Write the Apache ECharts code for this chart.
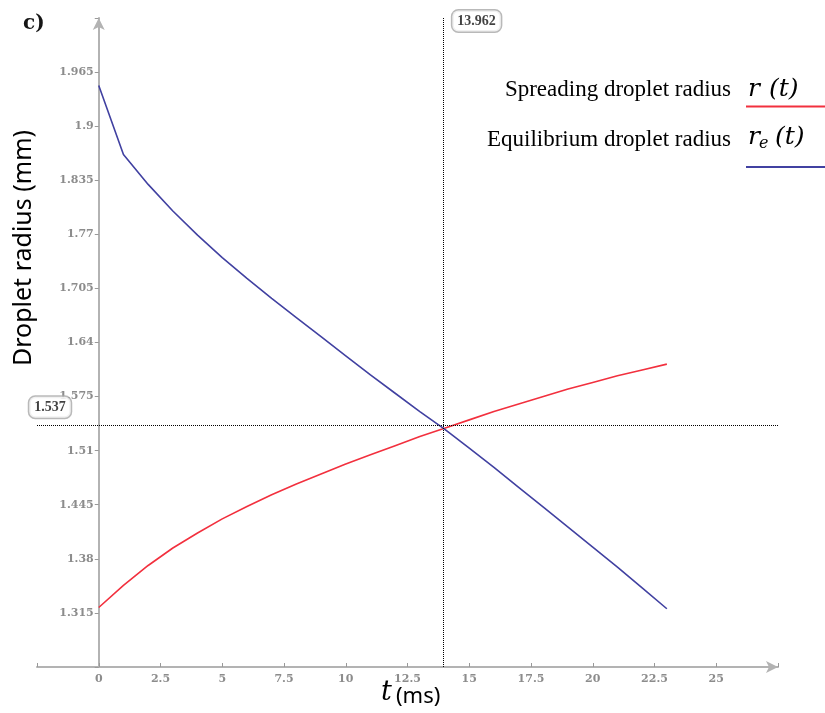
<!DOCTYPE html>
<html>
<head>
<meta charset="utf-8">
<script src="https://cdn.jsdelivr.net/npm/echarts@6/dist/echarts.min.js"></script>
<style>
  html, body { margin: 0; padding: 0; background: #fff; }
  #chart { width: 825px; height: 713px; }
</style>
</head>
<body>
<div id="chart"></div>
<script>
// ---- data ----
const timeMs = [0, 1, 2, 3, 4, 5, 6, 7, 8, 9, 10, 11, 12, 13, 14, 15, 16, 17, 18, 19, 20, 21, 22, 23];
const spreadingRadius = [1.3215, 1.348, 1.372, 1.393, 1.411, 1.428, 1.443, 1.457, 1.470, 1.482, 1.494, 1.505, 1.516, 1.527, 1.537, 1.547, 1.557, 1.566, 1.575, 1.584, 1.592, 1.600, 1.607, 1.614];
const equilibriumRadius = [1.949, 1.866, 1.830, 1.798, 1.769, 1.742, 1.717, 1.693, 1.670, 1.647, 1.624, 1.601, 1.579, 1.557, 1.536, 1.513, 1.490, 1.466, 1.442, 1.418, 1.394, 1.370, 1.345, 1.320];
const crossing = [13.962, 1.537];
const xTickLabels = ['0', '2.5', '5', '7.5', '10', '12.5', '15', '17.5', '20', '22.5', '25'];
const yTickLabels = ['1.315', '1.38', '1.445', '1.51', '1.575', '1.64', '1.705', '1.77', '1.835', '1.9', '1.965'];
const xRange = [-2.5, 27.5, 2.5];
const yRange = [1.25, 2.03, 0.065];

const RED = '#f2303e';
const BLUE = '#4141a1';

const GRID_LEFT = 37, GRID_RIGHT = 47;
const chart = echarts.init(document.getElementById('chart'), null, { renderer: 'canvas' });
const plotWidth = 825 - GRID_LEFT - GRID_RIGHT;
// place the y axis at t = 0 (axis offset derived from the x scale)
const yAxisOffset = -plotWidth * (0 - xRange[0]) / (xRange[1] - xRange[0]);

const axisLabelStyle = { fontFamily: 'DejaVu Serif', fontSize: 11, fontWeight: 'bold', color: '#8c8c8c' };
const labelBox = {
  fontFamily: 'Liberation Serif', fontWeight: 'bold', fontSize: 14, color: '#111',
  backgroundColor: '#fff', borderColor: '#a8a8a8', borderWidth: 1.5, borderRadius: 6,
  padding: [4, 5, 3, 5]
};

const option = {
  animation: false,
  backgroundColor: '#fff',
  grid: { left: GRID_LEFT, right: GRID_RIGHT, top: 18, bottom: 46, containLabel: false },
  xAxis: {
    type: 'value', min: xRange[0], max: xRange[1], interval: xRange[2],
    splitLine: { show: false },
    axisLine: { show: true, onZero: false, symbol: ['none', 'arrow'], symbolSize: [9, 12],
      lineStyle: { color: '#b3b3b3', width: 2 } },
    axisTick: { show: true, inside: true, length: 4, lineStyle: { color: '#999', width: 1 } },
    axisLabel: Object.assign({ margin: 7, formatter: v => { const s = String(+v.toFixed(2)); return xTickLabels.includes(s) ? s : ''; } }, axisLabelStyle)
  },
  yAxis: {
    type: 'value', min: yRange[0], max: yRange[1], interval: yRange[2],
    position: 'left', offset: yAxisOffset,
    splitLine: { show: false },
    axisLine: { show: true, onZero: false, symbol: ['none', 'arrow'], symbolSize: [9, 12],
      lineStyle: { color: '#b3b3b3', width: 2 } },
    axisTick: { show: true, length: 4, lineStyle: { color: '#999', width: 1 } },
    axisLabel: Object.assign({ margin: 5, formatter: v => { const s = String(+v.toFixed(3)); return yTickLabels.includes(s) ? s : ''; } }, axisLabelStyle)
  },
  series: [
    {
      name: 'Spreading droplet radius', type: 'line', showSymbol: false, symbol: 'none',
      data: timeMs.map((t, i) => [t, spreadingRadius[i]]),
      lineStyle: { color: RED, width: 1.6 }, itemStyle: { color: RED }, z: 3,
      markLine: {
        silent: true, symbol: ['none', 'none'], label: { show: false },
        lineStyle: { color: '#000', type: [1, 1], width: 1 },
        data: [{ xAxis: crossing[0] }, { yAxis: crossing[1] }]
      }
    },
    {
      name: 'Equilibrium droplet radius', type: 'line', showSymbol: false, symbol: 'none',
      data: timeMs.map((t, i) => [t, equilibriumRadius[i]]),
      lineStyle: { color: BLUE, width: 1.6 }, itemStyle: { color: BLUE }, z: 4
    },
    {
      type: 'scatter', symbolSize: 0, silent: true, z: 5,
      data: [
        { value: [crossing[0], yRange[1]], label: Object.assign({ show: true, position: 'inside', offset: [33, 3], formatter: String(crossing[0]) }, labelBox) },
        { value: [xRange[0], crossing[1]], label: Object.assign({ show: true, position: 'inside', offset: [13, -21], formatter: String(crossing[1]) }, labelBox) }
      ]
    }
  ],
  graphic: [
    { type: 'text', left: 23, top: 14, style: { text: 'c)', fontFamily: 'DejaVu Serif', fontWeight: 'bold', fontSize: 20, fill: '#151515' } },
    { type: 'text', x: 24, y: 248, rotation: Math.PI / 2,
      style: { text: 'Droplet radius (mm)', fontFamily: 'Noto Sans', fontSize: 25, fill: '#000', align: 'center', verticalAlign: 'middle' } },
    { type: 'text', x: 381, y: 693, style: { text: 't', fontFamily: 'DejaVu Serif', fontStyle: 'italic', fontSize: 27, fill: '#000', align: 'left', verticalAlign: 'middle' } },
    { type: 'text', x: 396, y: 697, style: { text: '(ms)', fontFamily: 'Noto Sans', fontSize: 22, fill: '#000', align: 'left', verticalAlign: 'middle' } },
    // legend
    { type: 'text', x: 731, y: 90, style: { text: 'Spreading droplet radius', fontFamily: 'Liberation Serif', fontSize: 23, fill: '#000', align: 'right', verticalAlign: 'middle' } },
    { type: 'text', x: 748, y: 89, style: { text: 'r', fontFamily: 'DejaVu Serif', fontStyle: 'italic', fontSize: 25, fill: '#000', align: 'left', verticalAlign: 'middle' } },
    { type: 'text', x: 769, y: 89, style: { text: '(t)', fontFamily: 'DejaVu Serif', fontStyle: 'italic', fontSize: 25, fill: '#000', align: 'left', verticalAlign: 'middle' } },
    { type: 'line', shape: { x1: 746, y1: 106.5, x2: 825, y2: 106.5 }, style: { stroke: RED, lineWidth: 2 } },
    { type: 'text', x: 731, y: 140, style: { text: 'Equilibrium droplet radius', fontFamily: 'Liberation Serif', fontSize: 23, fill: '#000', align: 'right', verticalAlign: 'middle' } },
    { type: 'text', x: 748, y: 137, style: { text: 'r', fontFamily: 'DejaVu Serif', fontStyle: 'italic', fontSize: 25, fill: '#000', align: 'left', verticalAlign: 'middle' } },
    { type: 'text', x: 759, y: 144, style: { text: 'e', fontFamily: 'DejaVu Serif', fontStyle: 'italic', fontSize: 16, fill: '#000', align: 'left', verticalAlign: 'middle' } },
    { type: 'text', x: 775, y: 137, style: { text: '(t)', fontFamily: 'DejaVu Serif', fontStyle: 'italic', fontSize: 25, fill: '#000', align: 'left', verticalAlign: 'middle' } },
    { type: 'line', shape: { x1: 746, y1: 167, x2: 825, y2: 167 }, style: { stroke: BLUE, lineWidth: 2 } }
  ]
};
chart.setOption(option);
</script>
</body>
</html>
